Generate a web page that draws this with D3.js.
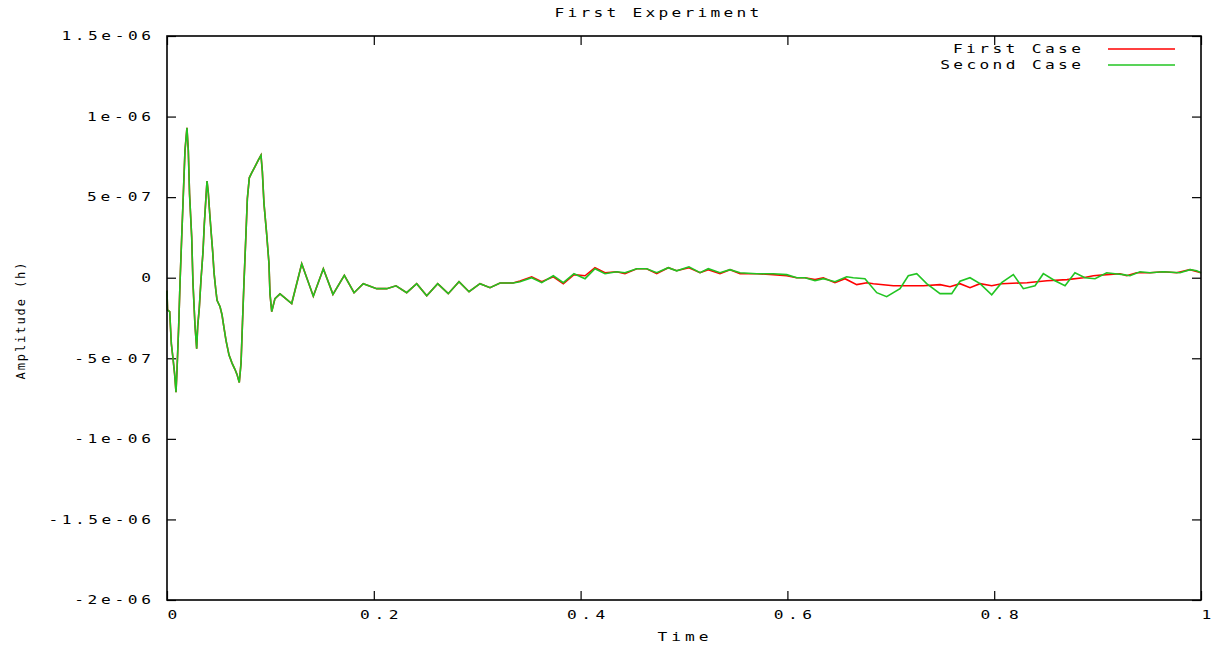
<!DOCTYPE html>
<html lang="en">
<head>
  <meta charset="UTF-8">
  <title>First Experiment</title>
  <script src="https://cdn.jsdelivr.net/npm/d3@7/dist/d3.min.js"></script>
  <style>
    body { margin: 0; background: #fff; }
    svg text { font-family: "DejaVu Sans Mono", monospace; font-size: 12px; fill: #000; }
  </style>
</head>
<body>
  <script>
    // values in units of 1e-7
    const unit = 1e-7;

    // early part, both cases overlap
    const sharedTime = [0, 0.0005, 0.0026, 0.0042, 0.0058, 0.0074, 0.0087, 0.0097, 0.0113, 0.0126,
      0.0142, 0.0158, 0.0174, 0.0193, 0.0206, 0.0218, 0.0239, 0.0251, 0.0271, 0.0287, 0.0297,
      0.0312, 0.0329, 0.0348, 0.0361, 0.0377, 0.0387, 0.0399, 0.0413, 0.0426, 0.0442, 0.0455,
      0.0471, 0.0484, 0.0513, 0.0532, 0.0551, 0.0571, 0.0600, 0.0629, 0.0658, 0.0677, 0.0699,
      0.0716, 0.0730, 0.0745, 0.0761, 0.0777, 0.0796, 0.0819, 0.0851, 0.0883, 0.0909, 0.0922,
      0.0938, 0.0964, 0.0986, 0.0996, 0.1013, 0.1044, 0.1093, 0.1206, 0.1303, 0.1415, 0.1512,
      0.1605, 0.1715, 0.1809, 0.1898, 0.2028, 0.2125, 0.2215, 0.2318, 0.2415, 0.2512, 0.2618,
      0.2720, 0.2824, 0.2921, 0.3027, 0.3124, 0.3221, 0.3346];
    const sharedAmp = [-0.8, -2.0, -2.1, -4.1, -5.0, -6.0, -7.1, -5.7, -3.0, -0.3,
      2.5, 5.2, 7.9, 9.3, 7.9, 5.2, 2.5, -0.3, -3.0, -4.4, -3.0,
      -1.9, -0.1, 1.6, 3.35, 5.0, 6.0, 5.3, 4.0, 2.9, 1.6, 0.3,
      -0.7, -1.4, -1.8, -2.3, -3.1, -3.9, -4.8, -5.3, -5.7, -6.0, -6.5,
      -5.3, -2.8, -0.2, 2.3, 4.9, 6.2, 6.5, 6.9, 7.3, 7.6, 6.6,
      4.6, 2.7, 0.9, -1.0, -2.1, -1.3, -1.0, -1.6, 0.87, -1.15, 0.56,
      -1.03, 0.15, -0.93, -0.37, -0.68, -0.68, -0.5, -0.93, -0.37, -1.12, -0.37,
      -0.99, -0.25, -0.87, -0.37, -0.62, -0.33, -0.33];

    // later part, First Case
    const firstTime = [0.3414, 0.3527, 0.3624, 0.3736, 0.3833, 0.3936, 0.4043, 0.4139, 0.4236, 0.4349,
      0.4429, 0.4543, 0.4639, 0.4736, 0.4848, 0.4929, 0.5048, 0.5155, 0.5235, 0.5348, 0.5445,
      0.5542, 0.5703, 0.5864, 0.5993, 0.6090, 0.6170, 0.6267, 0.6347, 0.6460, 0.6557, 0.6670,
      0.6770, 0.6831, 0.7025, 0.7316, 0.7476, 0.7573, 0.7669, 0.7766, 0.7863, 0.7976, 0.8072,
      0.8317, 0.8510, 0.8704, 0.8862, 0.8959, 0.9088, 0.9217, 0.9281, 0.9378, 0.9507, 0.9635,
      0.9765, 0.9894, 1.0];
    const firstAmp = [-0.2, 0.06, -0.25, 0.06, -0.37, 0.19, 0.12, 0.62, 0.31, 0.37,
      0.25, 0.56, 0.56, 0.25, 0.62, 0.43, 0.62, 0.31, 0.5, 0.25, 0.5,
      0.25, 0.25, 0.19, 0.12, 0, 0, -0.12, 0, -0.31, -0.06, -0.43,
      -0.31, -0.37, -0.5, -0.5, -0.43, -0.56, -0.37, -0.62, -0.37, -0.5, -0.37,
      -0.31, -0.19, -0.12, 0, 0.12, 0.19, 0.25, 0.12, 0.31, 0.31, 0.37,
      0.31, 0.5, 0.31];

    // later part, Second Case
    const secondTime = [0.3414, 0.3527, 0.3624, 0.3736, 0.3833, 0.3936, 0.4043, 0.4139, 0.4236, 0.4349,
      0.4429, 0.4543, 0.4639, 0.4736, 0.4848, 0.4929, 0.5048, 0.5155, 0.5235, 0.5348, 0.5445,
      0.5542, 0.5703, 0.5864, 0.5993, 0.6090, 0.6170, 0.6267, 0.6347, 0.6460, 0.6573, 0.6637,
      0.6750, 0.6864, 0.6960, 0.7089, 0.7169, 0.7251, 0.7347, 0.7476, 0.7589, 0.7669, 0.7766,
      0.7863, 0.7976, 0.8072, 0.8185, 0.8282, 0.8395, 0.8475, 0.8588, 0.8685, 0.8781, 0.8878,
      0.8975, 0.9088, 0.9168, 0.9249, 0.9313, 0.9410, 0.9507, 0.9635, 0.9797, 0.9894, 0.9958, 1.0];
    const secondAmp = [-0.25, 0, -0.31, 0.12, -0.31, 0.25, -0.06, 0.56, 0.25, 0.37,
      0.31, 0.56, 0.56, 0.31, 0.62, 0.43, 0.68, 0.31, 0.56, 0.31, 0.5,
      0.31, 0.25, 0.25, 0.19, 0, 0, -0.19, -0.06, -0.25, 0.06, 0,
      -0.06, -0.93, -1.18, -0.68, 0.12, 0.25, -0.37, -0.99, -0.99, -0.22, 0,
      -0.37, -1.06, -0.31, 0.19, -0.68, -0.5, 0.25, -0.19, -0.5, 0.31, 0,
      -0.06, 0.31, 0.25, 0.19, 0.12, 0.37, 0.31, 0.37, 0.31, 0.5, 0.43, 0.31];

    const seriesNames = ["First Case", "Second Case"];
    const seriesColors = ["#ff0000", "#22c422"];

    const xTicks = [0, 0.2, 0.4, 0.6, 0.8, 1];
    const xTickLabels = ["0", "0.2", "0.4", "0.6", "0.8", "1"];
    const yTicks = [1.5e-6, 1e-6, 5e-7, 0, -5e-7, -1e-6, -1.5e-6, -2e-6];
    const yTickLabels = ["1.5e-06", "1e-06", "5e-07", "0", "-5e-07", "-1e-06", "-1.5e-06", "-2e-06"];

    const W = 1214, H = 649;
    const margin = {top: 36, right: 13, bottom: 49, left: 167};
    const width = W - margin.left - margin.right,
          height = H - margin.top - margin.bottom;
    const charW = 12.8;   // advance per character on screen
    const stretch = 1.35; // glyphs are drawn wide

    const svg = d3.select("body").append("svg")
      .attr("width", W).attr("height", H);
    const g = svg.append("g")
      .attr("transform", `translate(${margin.left},${margin.top})`);

    const x = d3.scaleLinear().domain([0, 1]).range([0, width]);
    const y = d3.scaleLinear().domain([-2e-6, 1.5e-6]).range([height, 0]);

    const build = (t1, a1, t2, a2) =>
      t1.map((t, i) => ({t, v: a1[i] * unit})).concat(t2.map((t, i) => ({t, v: a2[i] * unit})));
    const series = [
      build(sharedTime, sharedAmp, firstTime, firstAmp),
      build(sharedTime, sharedAmp, secondTime, secondAmp)
    ];

    // widen text horizontally and set the per-char advance
    const fixText = sel => sel.each(function() {
      const t = d3.select(this);
      const n = this.textContent.length;
      const x0 = +t.attr("x") || 0;
      t.attr("x", x0 / stretch)
       .attr("transform", `scale(${stretch},1)`)
       .attr("textLength", n * charW / stretch)
       .attr("lengthAdjust", "spacing");
    });

    // axes, ticks inward and mirrored
    const xl = g.append("g").attr("transform", `translate(0,${height})`)
      .call(d3.axisBottom(x).tickValues(xTicks).tickFormat((d, i) => xTickLabels[i])
        .tickSizeInner(-9).tickSizeOuter(0).tickPadding(10));
    xl.selectAll("text").attr("x", 5).call(fixText);
    g.append("g")
      .call(d3.axisTop(x).tickValues(xTicks).tickFormat("").tickSizeInner(-9).tickSizeOuter(0));
    const yl = g.append("g")
      .call(d3.axisLeft(y).tickValues(yTicks).tickFormat((d, i) => yTickLabels[i])
        .tickSizeInner(-9).tickSizeOuter(0).tickPadding(16));
    yl.selectAll("text").call(fixText);
    g.append("g").attr("transform", `translate(${width},0)`)
      .call(d3.axisRight(y).tickValues(yTicks).tickFormat("").tickSizeInner(-9).tickSizeOuter(0));
    g.selectAll(".domain").remove();
    g.selectAll(".tick line").attr("stroke", "#000").attr("stroke-width", 1.2);
    g.selectAll(".tick text").style("font-family", "DejaVu Sans Mono, monospace").style("font-size", "12px");

    const line = d3.line().x(d => x(d.t)).y(d => y(d.v));
    g.append("g").selectAll("path")
      .data(series)
      .enter().append("path")
      .attr("d", line)
      .attr("fill", "none")
      .attr("stroke", (d, i) => seriesColors[i])
      .attr("stroke-width", 1.6)
      .attr("stroke-linejoin", "miter");

    g.append("rect")
      .attr("width", width).attr("height", height)
      .attr("fill", "none").attr("stroke", "#000").attr("stroke-width", 1.6);

    // legend
    const legend = g.append("g").selectAll("g")
      .data(seriesNames)
      .enter().append("g")
      .attr("transform", (d, i) => `translate(0,${13 + i * 16})`);
    legend.append("text")
      .attr("x", x(1) - 120).attr("y", 4)
      .attr("text-anchor", "end")
      .text(d => d)
      .call(fixText);
    legend.append("line")
      .attr("x1", x(1) - 93).attr("x2", x(1) - 26)
      .attr("stroke", (d, i) => seriesColors[i]).attr("stroke-width", 1.6);

    svg.append("text")
      .attr("x", margin.left + width / 2 - 27).attr("y", 17)
      .attr("text-anchor", "middle")
      .text("First Experiment").call(fixText);

    svg.append("text")
      .attr("x", margin.left + width / 2 - 1).attr("y", 641)
      .attr("text-anchor", "middle")
      .text("Time").call(fixText);

    svg.append("text")
      .attr("transform", "translate(25,321) rotate(-90)")
      .attr("text-anchor", "middle")
      .attr("textLength", 117).attr("lengthAdjust", "spacing")
      .text("Amplitude (h)");
  </script>
</body>
</html>
